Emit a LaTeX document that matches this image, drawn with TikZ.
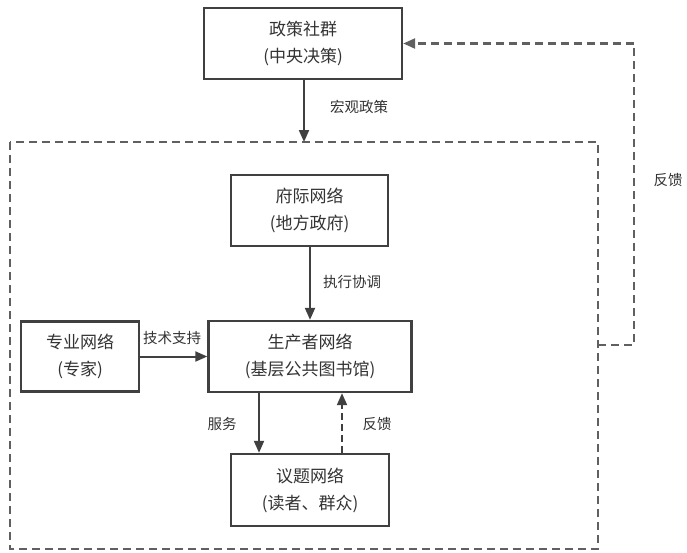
\documentclass[tikz,border=0pt]{standalone}
\usepackage{fontspec}
\setmainfont{Noto Sans CJK SC}
\usetikzlibrary{arrows.meta}
\definecolor{linec}{HTML}{404040}
\definecolor{dashc}{HTML}{606060}
\definecolor{textc}{HTML}{333333}
\begin{document}
\begin{tikzpicture}[x=1pt,y=-1pt,
  box/.style={draw=linec,line width=2.4pt,fill=white,align=center,text=textc,
    font=\fontsize{17}{27}\selectfont,inner sep=0pt},
  lab/.style={text=textc,font=\fontsize{14.5}{18}\selectfont,inner sep=0pt},
  arr/.style={draw=linec,line width=2pt,-{Triangle[length=12pt,width=10pt]}},
  darr/.style={arr,dash pattern=on 7pt off 4pt},
  dline/.style={draw=dashc,line width=2.4pt,dash pattern=on 8pt off 5pt}]
\useasboundingbox (0,0) rectangle (687,552);
\fill[white] (0,0) rectangle (687,552);
% outer dashed frame
\draw[dline] (10,142) rectangle (598,549);
\coordinate (otop) at (304,142);
\coordinate (oright) at (598,345);
\coordinate (fbc) at (634,345);
% nodes
\node[box,minimum width=198pt,minimum height=71pt] (zc) at (303,43.5) {政策社群\\(中央决策)};
\node[box,minimum width=157pt,minimum height=71pt] (fj) at (309.5,210.5) {府际网络\\(地方政府)};
\node[box,minimum width=118pt,minimum height=70pt] (zy) at (80,356.5) {专业网络\\(专家)};
\node[box,minimum width=203pt,minimum height=71pt] (sc) at (310,356.5) {生产者网络\\(基层公共图书馆)};
\node[box,minimum width=158pt,minimum height=72pt] (yt) at (310,490) {议题网络\\(读者、群众)};
% labels
\node[lab] (l1) at (359,107) {宏观政策};
\node[lab] (l2) at (352,282) {执行协调};
\node[lab] (l3) at (172,338) {技术支持};
\node[lab] (l4) at (222,424) {服务};
\node[lab] (l5) at (377,424) {反馈};
\node[lab] (l6) at (668,180) {反馈};
% connectors
\draw[arr] (zc.south -| otop) -- (otop);
\draw[arr] (fj.south -| sc.north) -- (sc.north);
\draw[arr] (zy.east) -- (sc.west);
\draw[arr] ([xshift=-51pt]sc.south) -- ([xshift=-51pt]sc.south |- yt.north);
\draw[darr] ([xshift=32pt]yt.north) -- ([xshift=32pt]yt.north |- sc.south);
\draw[dline,-{Triangle[length=12pt,width=10pt]}] (oright) -- (fbc) |- (zc.east);
\end{tikzpicture}
\end{document}
